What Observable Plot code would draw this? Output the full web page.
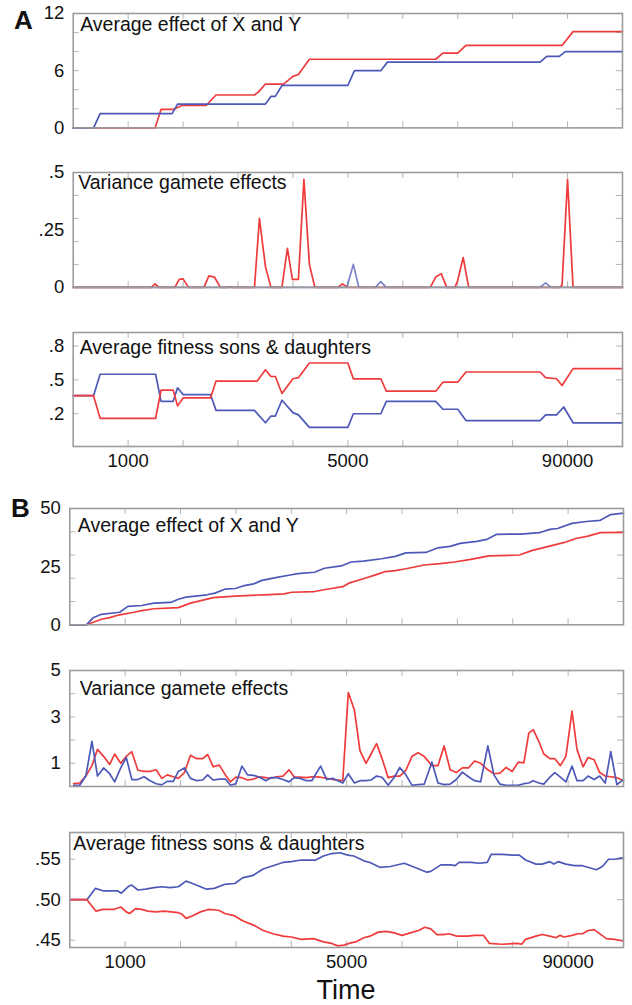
<!DOCTYPE html>
<html><head><meta charset="utf-8">
<script src="https://cdn.jsdelivr.net/npm/d3@7"></script>
<script src="https://cdn.jsdelivr.net/npm/@observablehq/plot@0.6"></script>
<style>
body{margin:0;background:#fff;font-family:"Liberation Sans",Arial,sans-serif;}
#wrap{position:relative;width:632px;height:1005px;overflow:hidden;}
.panel{position:absolute;left:0;}
.big{position:absolute;line-height:1;color:#111;white-space:nowrap;}
</style></head><body><div id="wrap"></div>
<script>
// ---------- DATA ----------
const RED = "#ef3b3b", BLUE = "#4d59b8";
const xMinorTicks = [1,2,3,4,5,6,7,8,9];
const xLabelTicks = [1,5,9];
const xLabelText = ["1000","5000","90000"];

// Panel A1: Average effect of X and Y  [time, value]
const a1Blue = [[0,0],[0.37,0],[0.49,1.5],[1.8,1.5],[1.9,2.5],[3.5,2.5],[3.6,3.3],[3.68,3.3],[3.8,4.45],[5.0,4.45],[5.12,6.0],[5.6,6.0],[5.72,6.9],[8.5,6.9],[8.62,7.5],[8.85,7.5],[8.96,8.0],[10,8.0]];
const a1Red = [[0,0],[1.49,0],[1.6,1.95],[1.83,1.95],[1.98,2.35],[2.42,2.35],[2.6,3.45],[3.3,3.45],[3.38,3.8],[3.5,4.6],[3.83,4.6],[4.0,5.4],[4.1,5.6],[4.3,7.2],[6.6,7.2],[6.73,7.85],[7.0,7.85],[7.15,8.65],[8.9,8.65],[9.1,10.1],[10,10.1]];
const a1YTicks = [0,6,12], a1YLabels = ["0","6","12"], a1YMinor = [2,4,6,8,10];

// Panel A2: Variance gamete effects
const a2Red = [[0,0],[1.42,0],[1.49,0.015],[1.56,0],[1.85,0],[1.93,0.035],[2.0,0.037],[2.1,0],[2.38,0],[2.47,0.05],[2.57,0.045],[2.68,0],[2.82,0],[2.87,0.003],[2.92,0],[3.3,0],[3.39,0.3],[3.5,0.09],[3.6,0],[3.8,0],[3.9,0.17],[3.99,0.035],[4.1,0.035],[4.2,0.47],[4.3,0.1],[4.4,0],[4.82,0],[4.9,0.015],[5.0,0],[6.5,0],[6.6,0.045],[6.7,0.06],[6.8,0],[6.95,0],[7.0,0.03],[7.1,0.13],[7.2,0],[8.85,0],[8.9,0.01],[9.0,0.47],[9.1,0],[10,0]];
const a2Blue = [[0,0],[4.98,0],[5.1,0.1],[5.2,0],[5.5,0],[5.6,0.025],[5.7,0],[8.5,0],[8.6,0.02],[8.7,0],[10,0]];
const a2YTicks = [0,0.25,0.5], a2YLabels = ["0",".25",".5"], a2YMinor = [0.1,0.2,0.3,0.4];

// Panel A3: Average fitness sons & daughters
const a3Blue = [[0,0.36],[0.37,0.36],[0.49,0.55],[1.5,0.55],[1.6,0.31],[1.82,0.31],[1.9,0.43],[2.0,0.37],[2.5,0.37],[2.6,0.23],[3.3,0.23],[3.5,0.12],[3.6,0.18],[3.68,0.18],[3.8,0.32],[4.0,0.21],[4.1,0.19],[4.3,0.08],[5.0,0.08],[5.1,0.2],[5.6,0.2],[5.7,0.31],[6.6,0.31],[6.73,0.24],[7.0,0.24],[7.15,0.14],[8.5,0.14],[8.6,0.19],[8.8,0.19],[8.93,0.26],[9.1,0.12],[10,0.12]];
const a3Red = [[0,0.36],[0.37,0.36],[0.49,0.16],[1.5,0.16],[1.6,0.41],[1.82,0.41],[1.9,0.27],[2.0,0.34],[2.5,0.34],[2.6,0.49],[3.35,0.49],[3.5,0.59],[3.6,0.53],[3.68,0.53],[3.8,0.38],[4.0,0.51],[4.1,0.52],[4.3,0.65],[5.0,0.65],[5.1,0.51],[5.6,0.51],[5.7,0.4],[6.6,0.4],[6.73,0.48],[7.0,0.48],[7.15,0.57],[8.5,0.57],[8.6,0.52],[8.8,0.51],[8.9,0.45],[9.1,0.6],[10,0.6]];
const a3YTicks = [0.2,0.5,0.8], a3YLabels = [".2",".5",".8"], a3YMinor = [0.2,0.5,0.8];

// Panel B1: Average effect of X and Y
const b1Blue = [[0,0],[0.3,0],[0.42,3],[0.57,4.5],[0.9,5.4],[1.05,7.9],[1.3,8.3],[1.52,9.3],[1.82,9.6],[1.96,11],[2.1,11.9],[2.48,12.9],[2.62,13.6],[2.8,15.3],[2.99,15.6],[3.13,16.7],[3.32,17.6],[3.47,19.1],[3.72,20.3],[3.98,21.4],[4.12,22],[4.42,22.6],[4.6,24.3],[4.9,25.3],[5.08,27],[5.3,27.4],[5.63,28.4],[5.88,29.4],[6.07,30.9],[6.43,31.1],[6.65,33.1],[6.87,33.7],[7.05,35],[7.35,35.9],[7.53,36.7],[7.71,38.9],[8.15,39],[8.48,39.6],[8.67,41],[8.81,41.4],[9.07,43.6],[9.33,44.4],[9.58,44.9],[9.77,47.4],[10,48]];
const b1Red = [[0,0],[0.3,0],[0.57,2.4],[0.72,3.1],[0.9,4.3],[1.16,5.4],[1.3,6.1],[1.52,6.9],[1.96,7.4],[2.18,9.3],[2.59,11.7],[2.99,12.3],[3.5,12.9],[3.87,13.3],[4.01,14],[4.42,14.3],[4.67,15.4],[4.93,16.4],[5.04,17.9],[5.33,20],[5.55,21.7],[5.7,22.9],[5.88,23.3],[6.07,24.1],[6.4,25.7],[6.69,26.3],[6.95,27],[7.24,28.1],[7.57,29.6],[8.12,30],[8.34,31.9],[8.63,33.6],[8.92,35.3],[9.14,37.1],[9.36,38.1],[9.58,39.6],[10,39.7]];
const b1YTicks = [0,25,50], b1YLabels = ["0","25","50"], b1YMinor = [10,20,30,40];

// Panel B2: Variance gamete effects (shared sample times)
const b2Time = [0.07,0.18,0.29,0.40,0.50,0.61,0.72,0.81,0.92,1.02,
  1.12,1.23,1.34,1.45,1.56,1.66,1.76,1.87,1.96,2.07,
  2.18,2.29,2.40,2.49,2.59,2.70,2.81,2.90,3.00,3.11,
  3.21,3.32,3.43,3.54,3.63,3.74,3.85,3.96,4.05,4.16,
  4.27,4.37,4.53,4.64,4.75,4.84,4.93,5.03,5.14,5.24,
  5.35,5.44,5.54,5.64,5.75,5.86,5.96,6.07,6.18,6.29,
  6.40,6.54,6.65,6.76,6.87,6.98,7.09,7.20,7.31,7.42,
  7.55,7.66,7.77,7.88,7.99,8.10,8.20,8.29,8.37,8.47,
  8.56,8.67,8.76,8.86,8.96,9.07,9.16,9.27,9.36,9.47,
  9.57,9.67,9.77,9.88,10.0];
const b2Blue = [0.05,0.05,0.45,1.95,0.45,0.8,0.55,0.2,0.8,1.25,
  0.3,0.3,0.42,0.25,0.12,0.07,0.22,0.22,0.65,0.8,
  0.35,0.25,0.28,0.5,0.28,0.32,0.32,0.05,0.12,0.88,
  0.5,0.48,0.4,0.25,0.38,0.38,0.3,0.2,0.38,0.35,
  0.25,0.25,0.88,0.3,0.35,0.25,0.15,0.55,0.15,0.25,
  0.25,0.28,0.45,0.4,0.05,0.4,0.82,0.5,0.05,0.08,
  0.1,1.05,0.15,0.08,0.1,0.3,0.62,0.42,0.25,0.2,
  1.75,0.5,0.1,0.05,0.05,0.05,0.12,0.15,0.25,0.15,
  0.1,0.4,0.6,0.4,0.2,0.88,0.25,0.25,0.45,0.3,
  0.45,0.15,1.5,0.08,0.3];
const b2Red = [0.12,0.15,0.45,0.9,1.6,1.3,0.95,1.4,1.0,1.3,
  1.5,0.7,0.65,0.65,0.72,0.35,0.5,0.42,0.35,0.6,
  1.35,1.2,1.2,1.38,0.85,0.92,0.5,0.2,0.4,0.38,
  0.28,0.32,0.42,0.38,0.35,0.42,0.45,0.72,0.42,0.4,
  0.38,0.42,0.4,0.35,0.3,0.28,0.25,4.05,3.3,1.55,
  1.0,1.4,1.85,1.2,0.38,0.45,0.45,0.7,1.3,1.45,
  1.3,0.9,0.9,1.75,0.72,0.6,0.8,0.8,1.1,1.0,
  0.72,0.55,0.58,0.82,0.65,1.05,1.02,2.3,2.45,1.95,
  1.4,1.2,1.2,0.9,1.3,3.25,1.6,0.85,1.25,1.15,
  0.6,0.45,0.42,0.38,0.25];
const b2YTicks = [1,3,5], b2YLabels = ["1","3","5"], b2YMinor = [1,2,3,4];

// Panel B3: Average fitness sons & daughters
const b3Blue = [[0,0.5],[0.31,0.5],[0.46,0.514],[0.6,0.511],[0.86,0.511],[0.93,0.508],[1.07,0.517],[1.12,0.518],[1.23,0.512],[1.37,0.513],[1.52,0.515],[1.66,0.516],[1.81,0.515],[1.96,0.516],[2.1,0.523],[2.18,0.521],[2.25,0.519],[2.47,0.513],[2.61,0.514],[2.8,0.519],[2.98,0.52],[3.12,0.527],[3.31,0.53],[3.49,0.538],[3.67,0.542],[3.85,0.546],[4.0,0.547],[4.18,0.549],[4.44,0.549],[4.58,0.554],[4.73,0.557],[4.88,0.558],[5.02,0.555],[5.13,0.554],[5.31,0.548],[5.42,0.546],[5.6,0.54],[5.79,0.541],[6.04,0.545],[6.19,0.541],[6.37,0.536],[6.45,0.534],[6.52,0.535],[6.7,0.543],[6.88,0.543],[6.96,0.542],[7.03,0.546],[7.25,0.546],[7.39,0.545],[7.54,0.546],[7.61,0.556],[7.8,0.556],[8.01,0.555],[8.12,0.555],[8.23,0.549],[8.42,0.544],[8.53,0.544],[8.67,0.547],[8.74,0.544],[8.82,0.547],[8.96,0.544],[9.11,0.542],[9.26,0.542],[9.51,0.537],[9.62,0.541],[9.73,0.55],[9.84,0.55],[10,0.552]];
const b3Red = [[0,0.5],[0.31,0.5],[0.47,0.486],[0.6,0.488],[0.79,0.488],[0.92,0.491],[1.02,0.485],[1.08,0.483],[1.19,0.489],[1.3,0.488],[1.41,0.486],[1.55,0.485],[1.7,0.486],[1.96,0.484],[2.03,0.482],[2.1,0.477],[2.21,0.48],[2.36,0.485],[2.5,0.488],[2.69,0.487],[2.8,0.483],[2.98,0.48],[3.12,0.474],[3.34,0.468],[3.49,0.462],[3.67,0.458],[3.85,0.455],[4.0,0.454],[4.18,0.451],[4.4,0.452],[4.58,0.448],[4.73,0.446],[4.84,0.443],[4.95,0.444],[5.09,0.447],[5.17,0.448],[5.31,0.453],[5.42,0.455],[5.57,0.46],[5.72,0.461],[5.86,0.459],[6.0,0.456],[6.15,0.459],[6.3,0.462],[6.41,0.466],[6.52,0.464],[6.63,0.457],[6.74,0.457],[6.85,0.458],[6.99,0.455],[7.18,0.455],[7.32,0.456],[7.47,0.456],[7.58,0.446],[7.8,0.445],[8.09,0.446],[8.16,0.445],[8.23,0.451],[8.42,0.455],[8.53,0.457],[8.67,0.455],[8.78,0.453],[8.85,0.456],[8.93,0.454],[9.07,0.456],[9.18,0.458],[9.26,0.458],[9.36,0.462],[9.47,0.463],[9.55,0.459],[9.69,0.452],[9.84,0.451],[10,0.449]];
const b3YTicks = [0.45,0.5,0.55], b3YLabels = [".45",".50",".55"], b3YMinor = [0.45,0.5,0.55];

const titleXY = "Average effect of X and Y";
const titleVar = "Variance gamete effects";
const titleFit = "Average fitness sons & daughters";

// ---------- DRAW ----------
const wrap = document.getElementById("wrap");
const FONT = "'Liberation Sans', Arial, sans-serif";

function panel(cfg) {
  const mt = 12, mb = cfg.xLabels ? 40 : 12;
  const fh = cfg.bottom - cfg.top;
  const fw = cfg.right - cfg.left;
  const lines = cfg.series.map(s => Plot.line(s.data, {x: s.x, y: s.y, stroke: s.color, strokeWidth: 1.7, strokeOpacity: s.opacity ?? 1}));
  const marks = [
    Plot.tickX(xMinorTicks, {x: d => d, insetTop: fh - 6, stroke: "#b5b5b5", strokeWidth: 1}),
    Plot.tickX(xMinorTicks, {x: d => d, insetBottom: fh - 6, stroke: "#b5b5b5", strokeWidth: 1}),
    Plot.tickY(cfg.yMinor, {y: d => d, insetRight: fw - 6, stroke: "#b5b5b5", strokeWidth: 1}),
    Plot.tickY(cfg.yMinor, {y: d => d, insetLeft: fw - 6, stroke: "#b5b5b5", strokeWidth: 1}),
    ...lines,
    Plot.frame({stroke: "#9c9c9c", strokeWidth: 1.6}),
    Plot.axisY({ticks: cfg.yTicks, tickSize: 0, tickPadding: 9,
      tickFormat: d => cfg.yLabels[cfg.yTicks.indexOf(d)], fontSize: 18.5}),
    Plot.text([cfg.title], {text: d => d, frameAnchor: "top-left", dx: cfg.titleDx, dy: cfg.titleDy,
      lineAnchor: "middle", textAnchor: "start", fontSize: 19.5, fill: "#111"})
  ];
  if (cfg.xLabels) {
    marks.push(Plot.axisX({ticks: xLabelTicks, tickSize: 0, tickPadding: 7,
      tickFormat: d => xLabelText[xLabelTicks.indexOf(d)], fontSize: 18.5}));
  }
  const svg = Plot.plot({
    width: 632,
    height: fh + mt + mb,
    marginTop: mt, marginBottom: mb,
    marginLeft: cfg.left, marginRight: 632 - cfg.right,
    x: {domain: [0, 10], axis: null},
    y: {domain: cfg.yDomain, axis: null},
    style: {fontFamily: FONT, color: "#111", background: "transparent", overflow: "visible"},
    marks
  });
  svg.classList.add("panel");
  svg.style.top = (cfg.top - mt) + "px";
  svg.style.position = "absolute";
  wrap.appendChild(svg);
}

const pair = {x: d => d[0], y: d => d[1]};
const AL = 72.7, AR = 622, BL = 69.3, BR = 623;

panel({left: AL, right: AR, top: 13.3, bottom: 127.7, yDomain: [0, 12],
  yTicks: a1YTicks, yLabels: a1YLabels, yMinor: a1YMinor, title: titleXY, titleDx: 7, titleDy: 11,
  series: [{data: a1Red, ...pair, color: RED}, {data: a1Blue, ...pair, color: BLUE}]});
panel({left: AL, right: AR, top: 171.8, bottom: 286.7, yDomain: [0, 0.5],
  yTicks: a2YTicks, yLabels: a2YLabels, yMinor: a2YMinor, title: titleVar, titleDx: 5, titleDy: 10,
  series: [{data: a2Red, ...pair, color: RED}, {data: a2Blue, ...pair, color: BLUE, opacity: 0.75}]});
panel({left: AL, right: AR, top: 331.7, bottom: 445.7, yDomain: [-0.09, 0.92],
  yTicks: a3YTicks, yLabels: a3YLabels, yMinor: a3YMinor, title: titleFit, titleDx: 6.5, titleDy: 15.5, xLabels: true,
  series: [{data: a3Blue, ...pair, color: BLUE}, {data: a3Red, ...pair, color: RED}]});
panel({left: BL, right: BR, top: 508, bottom: 624.3, yDomain: [0, 50],
  yTicks: b1YTicks, yLabels: b1YLabels, yMinor: b1YMinor, title: titleXY, titleDx: 8, titleDy: 17,
  series: [{data: b1Red, ...pair, color: RED}, {data: b1Blue, ...pair, color: BLUE}]});
const b2Idx = b2Time.map((t, i) => i);
panel({left: BL, right: BR, top: 670, bottom: 786, yDomain: [0, 5],
  yTicks: b2YTicks, yLabels: b2YLabels, yMinor: b2YMinor, title: titleVar, titleDx: 10, titleDy: 18.3,
  series: [{data: b2Idx, x: i => b2Time[i], y: i => b2Red[i], color: RED},
           {data: b2Idx, x: i => b2Time[i], y: i => b2Blue[i], color: BLUE}]});
panel({left: BL, right: BR, top: 831.7, bottom: 946.7, yDomain: [0.441, 0.583],
  yTicks: b3YTicks, yLabels: b3YLabels, yMinor: b3YMinor, title: titleFit, titleDx: 3.5, titleDy: 11.7, xLabels: true,
  series: [{data: b3Blue, ...pair, color: BLUE}, {data: b3Red, ...pair, color: RED}]});

function big(text, left, top, size, weight, center) {
  const d = document.createElement("div");
  d.className = "big";
  d.textContent = text;
  d.style.left = left + "px";
  d.style.top = top + "px";
  d.style.fontSize = size + "px";
  d.style.fontWeight = weight;
  if (center) d.style.transform = "translateX(-50%)";
  wrap.appendChild(d);
}
big("A", 14, 7, 26, "bold");
big("B", 11, 494.5, 26, "bold");
big("Time", 346, 977, 27, "normal", true);
</script></body></html>
